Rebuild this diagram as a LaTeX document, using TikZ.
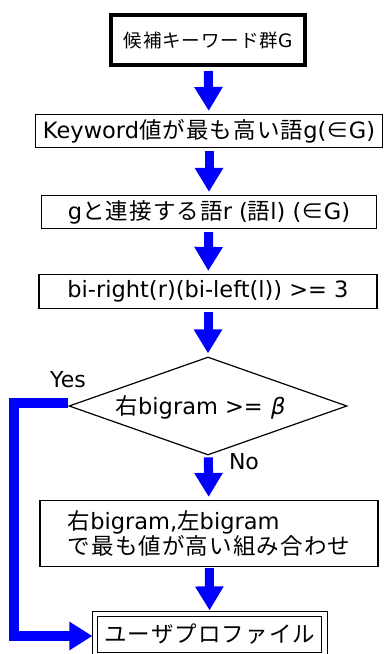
\documentclass[tikz,border=0pt]{standalone}
\usepackage{fontspec}
\setmainfont{DejaVu Sans}
\newfontfamily\jp[LetterSpace=5]{Noto Sans CJK JP}
\newfontfamily\slfont[FakeSlant=0.2]{DejaVu Sans}
\usetikzlibrary{shapes.geometric,arrows.meta}
\begin{document}
\begin{tikzpicture}[x=1pt,y=-1pt,
  box/.style={draw,line width=1.2pt,inner sep=0pt,font=\fontsize{22.5}{25}\selectfont},
  flow/.style={draw=blue,line width=9pt,-{Triangle[width=27pt,length=24pt]},shorten <=3pt,shorten >=3pt},
  yesflow/.style={draw=blue,line width=10pt,line join=miter,-{Triangle[width=27pt,length=23pt]},shorten >=2pt},
  lbl/.style={inner sep=0pt,font=\fontsize{22}{24}\selectfont}]
\useasboundingbox (0,0) rectangle (390,654);
\node[box,line width=4pt,minimum width=194pt,minimum height=50pt,font=\fontsize{18.5}{22}\selectfont] (b1) at (208,40) {{\jp 候補キーワード群}G};
\node[box,minimum width=347pt,minimum height=33pt] (b2) at (209,131) {Keyword{\jp 値が最も高い語}g({\jp ∈}G)};
\node[box,minimum width=335pt,minimum height=33pt] (b3) at (209,212) {g{\jp と連接する語}r ({\jp 語}l) ({\jp ∈}G)};
\node[box,minimum width=338pt,minimum height=34pt] (b4) at (208,291.5) {bi-right(r)(bi-left(l)) >= 3};
\node[draw,diamond,aspect=2.84,inner sep=0pt,minimum width=278pt,minimum height=98pt,line width=1.2pt] (dia) at (208,406) {};
\node[lbl,font=\fontsize{22.5}{25}\selectfont] (dtext) at (200,407) {{\jp 右}bigram >= {\slfont β}};
\node[box,minimum width=338pt,minimum height=66pt,align=left] (b5) at (209,533.5) {{\jp 右}bigram,{\jp 左}bigram\\{\jp で最も値が高い組み合わせ}};
\node[box,double,double distance=4.3pt,minimum width=229.5pt,minimum height=41pt] (b6) at (209.75,634.5) {\jp ユーザプロファイル};
\node[lbl] (yes) at (68,380) {Yes};
\node[lbl] (no) at (244,462) {No};
\draw[flow,shorten <=4pt] (b1) -- (b2);
\draw[flow] (b2) -- (b3);
\draw[flow] (b3) -- (b4);
\draw[flow] (b4) -- (dia);
\draw[flow,shorten <=2pt] (dia) -- (b5);
\draw[flow,shorten <=1pt] (b5) -- (b6);
\draw[yesflow] ([yshift=3pt]dia.west) -- ++(-54,0) |- ([yshift=-1.5pt]b6.west);
\end{tikzpicture}
\end{document}
